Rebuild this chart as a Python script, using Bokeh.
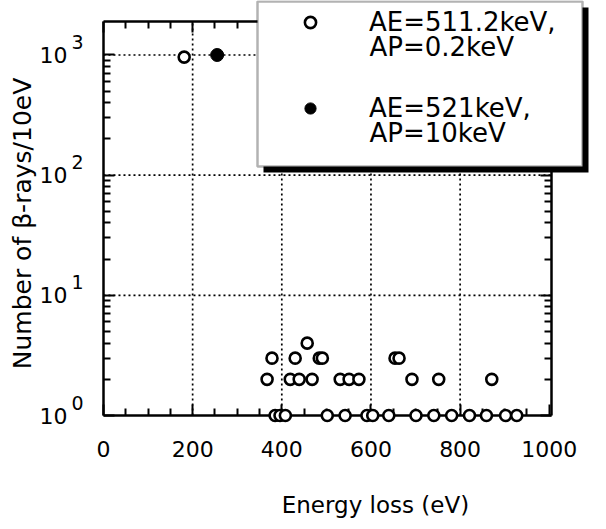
import math
from bokeh.plotting import figure
from bokeh.models import (LinearAxis, LogAxis, Legend, LegendItem, BoxAnnotation, Label,
                          CustomJSTickFormatter, FixedTicker, Range1d, ColumnDataSource)
from bokeh.embed import file_html
from bokeh.resources import INLINE

# ---------------- data ----------------
open_energy = [181,
               385, 396, 408, 502, 542, 591, 604, 640, 701, 741, 781, 821, 859, 902, 927,
               367, 419, 439, 468, 531, 551, 573, 692, 752, 871,
               378, 430, 484, 491, 654, 663,
               457]
open_counts = [960,
               1, 1, 1, 1, 1, 1, 1, 1, 1, 1, 1, 1, 1, 1, 1,
               2, 2, 2, 2, 2, 2, 2, 2, 2, 2,
               3, 3, 3, 3, 3, 3,
               4]
filled_energy = [255]
filled_counts = [1000]

open_label = ["AE=511.2keV,", "AP=0.2keV"]
filled_label = ["AE=521keV,", "AP=10keV"]

x_ticks = [0, 200, 400, 600, 800, 1000]
x_minor_ticks = [50, 100, 150, 250, 300, 350, 450, 500, 550,
                 650, 700, 750, 850, 900, 950]
x_grid_ticks = [200, 400, 600, 800]
y_ticks = [1, 10, 100, 1000]
y_tick_base = "10"
y_tick_exponents = ["0", "1", "2", "3"]
y_minor_ticks = [2, 3, 4, 5, 6, 7, 8, 9,
                 20, 30, 40, 50, 60, 70, 80, 90,
                 200, 300, 400, 500, 600, 700, 800, 900]
y_grid_ticks = [10, 100, 1000]

x_title = "Energy loss (eV)"
y_title = "Number of \u03b2-rays/10eV"

FONT = "DejaVu Sans"
W, H = 598, 521
# axes box (data units); the frame covers the whole canvas
AX_X0, AX_X1 = 0, 1005
AX_Y0, AX_Y1 = 1, 1900
FR_X0, FR_X1 = -231.0, 1110.4
FR_Y0, FR_Y1 = 0.1312, 2841

p = figure(frame_width=W, frame_height=H,
           x_range=Range1d(FR_X0, FR_X1), y_range=Range1d(FR_Y0, FR_Y1),
           y_axis_type="log",
           output_backend="svg", toolbar_location=None,
           min_border_left=0, min_border_right=0,
           min_border_top=0, min_border_bottom=0,
           outline_line_color=None,
           background_fill_color="white", border_fill_color="white")

x_ticker = FixedTicker(ticks=x_ticks, minor_ticks=x_minor_ticks)
y_ticker = FixedTicker(ticks=y_ticks, minor_ticks=y_minor_ticks)
blank = CustomJSTickFormatter(code="return '';")
y_fmt = CustomJSTickFormatter(args=dict(base=y_tick_base), code="return base;")


def style(ax):
    ax.axis_line_color = "black"
    ax.axis_line_width = 2.5
    ax.major_tick_line_color = "black"
    ax.minor_tick_line_color = "black"
    ax.major_tick_line_width = 2
    ax.minor_tick_line_width = 2
    ax.major_tick_in = 11
    ax.major_tick_out = 0
    ax.minor_tick_in = 7
    ax.minor_tick_out = 0
    ax.major_label_text_font = FONT
    ax.major_label_text_color = "black"


# bottom axis at y = 1
xb = p.xaxis[0]
xb.ticker = x_ticker
xb.fixed_location = AX_Y0
xb.bounds = (AX_X0, AX_X1)
style(xb)
xb.major_label_text_font_size = "22px"
xb.major_label_standoff = 25

# left axis at x = 0
yl = p.yaxis[0]
yl.ticker = y_ticker
yl.formatter = y_fmt
yl.fixed_location = AX_X0
yl.bounds = (AX_Y0, AX_Y1)
style(yl)
yl.major_label_text_font_size = "22px"
yl.major_label_standoff = 36

# top and right frame axes (ticks only)
xt = LinearAxis(ticker=x_ticker, formatter=blank, fixed_location=AX_Y1, bounds=(AX_X0, AX_X1))
style(xt)
p.add_layout(xt, "above")
yr = LogAxis(ticker=y_ticker, formatter=blank, fixed_location=AX_X1, bounds=(AX_Y0, AX_Y1))
style(yr)
p.add_layout(yr, "right")

p.xgrid.visible = False
p.ygrid.visible = False

# exponents of the y tick labels
for t, e in zip(y_ticks, y_tick_exponents):
    p.add_layout(Label(x=71, y=t, x_units="screen", y_units="data", text=e,
                       y_offset=13, text_font=FONT, text_font_size="19px",
                       text_color="black", text_align="left", text_baseline="middle"))

# dotted grid lines inside the axes box
vsrc = ColumnDataSource(dict(x=x_grid_ticks,
                             y0=[AX_Y0] * len(x_grid_ticks),
                             y1=[AX_Y1] * len(x_grid_ticks)))
p.segment(x0="x", y0="y0", x1="x", y1="y1", source=vsrc,
          line_color="black", line_width=1.7, line_dash="2 3")
hsrc = ColumnDataSource(dict(y=y_grid_ticks,
                             x0=[AX_X0] * len(y_grid_ticks),
                             x1=[AX_X1] * len(y_grid_ticks)))
p.segment(x0="x0", y0="y", x1="x1", y1="y", source=hsrc,
          line_color="black", line_width=1.7, line_dash="2 3")

r_open = p.scatter(open_energy, open_counts, marker="circle", size=11,
                   fill_color="white", line_color="black", line_width=2.6,
                   level="overlay")
r_fill = p.scatter(filled_energy, filled_counts, marker="circle", size=13,
                   fill_color="black", line_color="black", level="overlay")

# axis titles
p.add_layout(Label(x=610, y=17, x_units="data", y_units="screen", text=x_title,
                   text_font=FONT, text_font_size="23px", text_color="black",
                   text_align="center", text_baseline="middle"))
p.add_layout(Label(x=22, y=298, x_units="screen", y_units="screen", text=y_title,
                   angle=math.pi / 2, text_font=FONT, text_font_size="25px",
                   text_color="black", text_align="center", text_baseline="middle"))

# legend box with shadow (screen units)
shadow = BoxAnnotation(left=263, right=588, top=514, bottom=349,
                       left_units="screen", right_units="screen",
                       top_units="screen", bottom_units="screen",
                       fill_color="black", fill_alpha=1, line_color=None)
box = BoxAnnotation(left=257, right=582, top=520, bottom=355,
                    left_units="screen", right_units="screen",
                    top_units="screen", bottom_units="screen",
                    fill_color="white", fill_alpha=1, line_color="black", line_width=2.5)
p.add_layout(shadow)
p.add_layout(box)

legend = Legend(items=[LegendItem(label=open_label[0], renderers=[r_open]),
                       LegendItem(label=filled_label[0], renderers=[r_fill])],
                location=(296, 398),
                background_fill_alpha=0, border_line_color=None,
                padding=0, margin=0, spacing=56,
                glyph_width=28, glyph_height=30, label_standoff=45,
                label_text_font=FONT, label_text_font_size="26px",
                label_text_color="black")
p.add_layout(legend, "center")

for txt, yy in ((open_label[1], 475), (filled_label[1], 389)):
    p.add_layout(Label(x=369, y=yy, x_units="screen", y_units="screen", text=txt,
                       text_font=FONT, text_font_size="26px", text_color="black",
                       text_align="left", text_baseline="middle"))

open("out.html", "w").write(file_html(p, INLINE))
